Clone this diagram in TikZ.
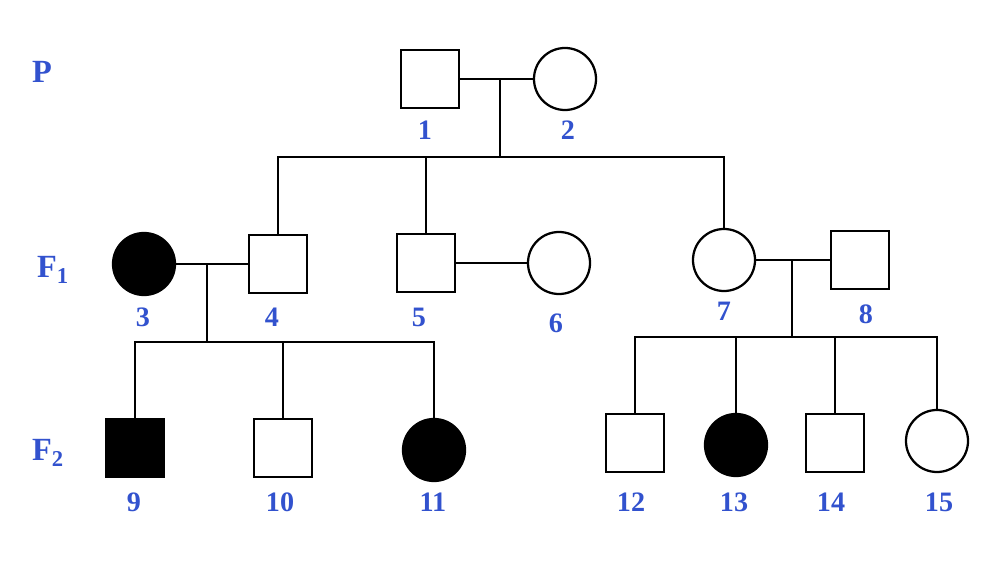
\documentclass[tikz,border=0pt]{standalone}
\usepackage{fontspec}
\setmainfont{Liberation Serif}
\usepackage{tikz}
\usetikzlibrary{positioning}
\usepackage{xcolor}
\definecolor{labelblue}{RGB}{50,82,206}

\begin{document}
\begin{tikzpicture}[x=0.025cm, y=-0.025cm, line width=1.6pt,
    male/.style={draw, rectangle, minimum size=1.45cm, inner sep=0pt},
    female/.style={draw, circle, minimum size=1.55cm, inner sep=0pt},
    affected/.style={fill=black},
    num/.style={text=labelblue, font=\fontsize{20}{24}\selectfont\bfseries, inner sep=0pt},
    gen/.style={num, font=\fontsize{23}{27}\selectfont\bfseries, anchor=base west}]
    \useasboundingbox (0,0) rectangle (1000,563);

    % generation labels
    \node[gen] (gP) at (31,83) {P};
    \node[gen] (gF1) at (36,278) {F\textsubscript{1}};
    \node[gen] (gF2) at (31,461) {F\textsubscript{2}};

    % P
    \node[male] (m1) at (430,79) {};
    \node[female] (f2) at (565,79) {};
    \node[num] (l1) at (425,130) {1};
    \node[num] (l2) at (568,130) {2};

    % F1
    \node[female, affected] (f3) at (144,264) {};
    \node[male] (m4) at (278,264) {};
    \node[male] (m5) at (426,263) {};
    \node[female] (f6) at (559,263) {};
    \node[female] (f7) at (724,260) {};
    \node[male] (m8) at (860,260) {};
    \node[num] (l3) at (143,317) {3};
    \node[num] (l4) at (272,317) {4};
    \node[num] (l5) at (419,317) {5};
    \node[num] (l6) at (556,323) {6};
    \node[num] (l7) at (724,311) {7};
    \node[num] (l8) at (866,314) {8};

    % F2
    \node[male, affected] (m9) at (135,448) {};
    \node[male] (m10) at (283,448) {};
    \node[female, affected] (f11) at (434,450) {};
    \node[male] (m12) at (635,443) {};
    \node[female, affected] (f13) at (736,445) {};
    \node[male] (m14) at (835,443) {};
    \node[female] (f15) at (937,441) {};
    \node[num] (l9) at (134,502) {9};
    \node[num] (l10) at (280,502) {10};
    \node[num] (l11) at (433,502) {11};
    \node[num] (l12) at (631,502) {12};
    \node[num] (l13) at (734,502) {13};
    \node[num] (l14) at (831,502) {14};
    \node[num] (l15) at (939,502) {15};

    % matings and sibships
    \coordinate (u12) at (500,79);
    \coordinate (s12) at (500,157);
    \draw (m1) -- (f2);
    \draw (u12) -- (s12);
    \draw (m4.north) |- (s12) -| (f7.north);
    \draw (s12 -| m5.north) -- (m5.north);

    \coordinate (u34) at (207,264);
    \coordinate (s34) at (207,342);
    \draw (f3) -- (m4);
    \draw (u34) -- (s34);
    \draw (m9.north) |- (s34) -| (f11.north);
    \draw (s34 -| m10.north) -- (m10.north);

    \draw (m5) -- (f6);

    \coordinate (u78) at (792,260);
    \coordinate (s78) at (792,337);
    \draw (f7) -- (m8);
    \draw (u78) -- (s78);
    \draw (m12.north) |- (s78) -| (f15.north);
    \draw (s78 -| f13.north) -- (f13.north);
    \draw (s78 -| m14.north) -- (m14.north);
\end{tikzpicture}
\end{document}
